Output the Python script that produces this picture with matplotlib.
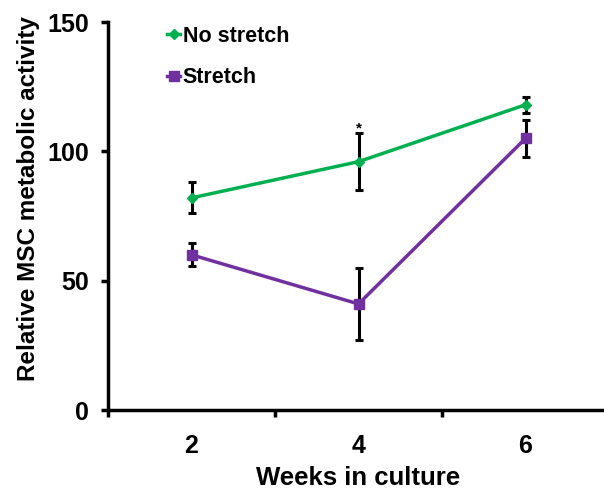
import matplotlib
matplotlib.use("Agg")
import matplotlib.pyplot as plt

plt.rcParams['font.family'] = ['Liberation Sans', 'DejaVu Sans']
plt.rcParams['font.weight'] = 'bold'

weeks = ['2', '4', '6']
no_stretch = [82, 96, 118]
no_stretch_err = [6, 11, 3]
stretch = [60, 41, 105]
stretch_err = [4.5, 14, 7]
star_week = 1  # index of week 4
star_y = 109

GREEN = '#00b050'
PURPLE = '#7030a0'


def main():
    fig = plt.figure(figsize=(6.04, 4.92), dpi=100)
    ax = fig.add_axes([108 / 604, 82 / 492, 501 / 604, 388 / 492])

    x = list(range(1, len(weeks) + 1))

    ax.errorbar(x, no_stretch, yerr=no_stretch_err, fmt='none', ecolor='black',
                elinewidth=2.2, capsize=3, capthick=2.2, zorder=2)
    ax.errorbar(x, stretch, yerr=stretch_err, fmt='none', ecolor='black',
                elinewidth=2.2, capsize=3, capthick=2.2, zorder=2)
    ax.plot(x, no_stretch, color=GREEN, lw=2.5, marker='D', ms=5,
            label='No stretch', zorder=3)
    ax.plot(x, stretch, color=PURPLE, lw=2.5, marker='s', ms=7,
            label='Stretch', zorder=3)

    ax.text(x[star_week], star_y, '*', ha='center', va='center', fontsize=11)

    ax.set_xlim(0.5, len(weeks) + 0.5)
    ax.set_ylim(0, 150)
    ax.set_yticks([0, 50, 100, 150])

    # excel style: ticks between categories, labels in the middle
    ax.set_xticks([i + 0.5 for i in range(len(weeks) + 1)])
    ax.set_xticklabels([])
    ax.set_xticks(x, minor=True)
    ax.set_xticklabels(weeks, minor=True)
    ax.tick_params(axis='x', which='minor', length=0, pad=17, labelsize=18)
    ax.tick_params(axis='x', which='major', length=5, width=2.5, direction='out')
    ax.tick_params(axis='y', length=5, width=2.5, direction='out', labelsize=18, pad=8.5)

    for s in ['top', 'right']:
        ax.spines[s].set_visible(False)
    for s in ['left', 'bottom']:
        ax.spines[s].set_linewidth(2.5)

    ax.set_xlabel('Weeks in culture', fontsize=18.5, fontweight='bold', labelpad=6)
    ax.set_ylabel('Relative MSC metabolic activity', fontsize=17.5, fontweight='bold')
    ax.yaxis.set_label_coords(-0.136, 0.546)

    ax.legend(loc='upper left', bbox_to_anchor=(0.08, 1.04), frameon=False,
              fontsize=15.5, handlelength=0.6, handletextpad=0.1, labelspacing=0.95)

    fig.savefig('out.png', dpi=100)


if __name__ == '__main__':
    main()
